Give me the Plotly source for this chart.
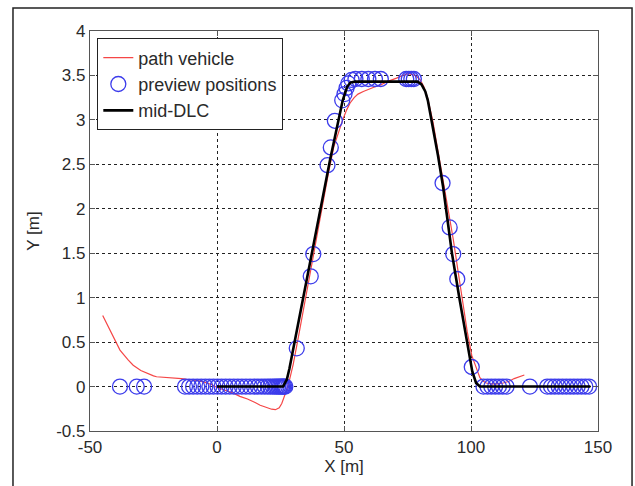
import plotly.graph_objects as go

# Vehicle path (red)
path_x = [-45, -42, -38.2, -35, -33, -30, -27.8, -25, -23.8, -20, -17.2, -14, -11.9, -8, -5, -2,
          0, 3, 6, 9, 12, 15, 17, 19, 21.5, 23, 24.5, 25.5, 26.5, 27.4, 28.5, 30, 32, 34, 36, 38,
          40, 42, 44, 46, 48, 49.5, 51, 52.4, 54, 55.5, 57.6, 60, 62, 64.2, 67, 70.7, 73, 75.3,
          77, 78.5, 80, 81.5, 83, 85, 87, 89, 91, 93, 95, 97, 98.5, 100.3, 102.2, 103.5, 104.9,
          106, 108, 110, 112.7, 115, 117, 119, 121]
path_y = [0.80, 0.62, 0.41, 0.30, 0.24, 0.18, 0.15, 0.12, 0.11, 0.105, 0.10, 0.09, 0.08, 0.07,
          0.05, 0.02, -0.01, -0.04, -0.07, -0.11, -0.14, -0.18, -0.21, -0.23, -0.255, -0.26,
          -0.24, -0.19, -0.12, -0.04, 0.07, 0.25, 0.55, 0.85, 1.17, 1.48, 1.80, 2.12, 2.42, 2.70,
          2.88, 3.00, 3.11, 3.19, 3.25, 3.29, 3.32, 3.35, 3.37, 3.39, 3.43, 3.47, 3.50, 3.52,
          3.51, 3.49, 3.45, 3.37, 3.24, 2.98, 2.66, 2.34, 2.02, 1.66, 1.28, 0.90, 0.62, 0.35,
          0.20, 0.10, 0.06, 0.04, 0.03, 0.03, 0.04, 0.06, 0.09, 0.11, 0.13]

# Preview positions (blue circles)
preview_x = [-38.2, -31.6, -28.7, -12.6, -11, -9.4, -7.8, -6.2, -4.6, -3, -1.4, 0.2, 1.8, 3.4,
             5, 6.6, 8.2, 9.8, 11.4, 13, 14.6, 16.1, 17.5, 18.8, 20, 21, 22, 22.8, 23.5, 24.1,
             24.7, 25.2, 25.7, 26.1, 26.5, 26.9,
             31.4, 36.9, 37.9, 43.5, 44.8, 46.4, 49.3, 50.2, 51, 51.7, 53, 54.5, 57, 59.6, 62.2,
             64.5, 74.5, 75.5, 76.5, 77.5,
             88.8, 91.6, 93, 94.6, 100.3,
             104.9, 106.5, 108, 109.5, 111, 112.5, 114, 123.2, 130, 131.5, 133, 134.5, 136,
             137.5, 139, 140.5, 142, 143.5, 145, 146.5]
preview_y = [0] * 36 + \
            [0.43, 1.24, 1.49, 2.49, 2.69, 2.99, 3.22, 3.29, 3.36, 3.41, 3.45, 3.46, 3.46, 3.46,
             3.46, 3.46, 3.46, 3.46, 3.46, 3.46,
             2.29, 1.79, 1.49, 1.21, 0.22] + \
            [0] * 20

# Double lane change centre line (black)
dlc_x = [0, 26, 27.5, 28.5, 44.5, 47.8, 49.5, 51.2, 52.5, 54.3, 79, 80.5, 82, 83, 85, 87, 89,
         91, 92.5, 95.4, 98.3, 100.5, 102, 103.5, 147]
dlc_y = [0, 0, 0.08, 0.2, 2.55, 3.0, 3.22, 3.37, 3.42, 3.43, 3.43, 3.40, 3.32, 3.22, 2.93, 2.6,
         2.25, 1.85, 1.5, 1.0, 0.5, 0.17, 0.04, 0, 0]

x_ticks = [-50, 0, 50, 100, 150]
y_ticks = [-0.5, 0, 0.5, 1, 1.5, 2, 2.5, 3, 3.5, 4]

font_family = "Liberation Sans, Arial, sans-serif"
text_color = "#2a2a2a"

fig = go.Figure()
fig.add_trace(go.Scatter(x=path_x, y=path_y, mode="lines", name="path vehicle",
                         line=dict(color="rgb(245,70,70)", width=1.2)))
fig.add_trace(go.Scatter(x=preview_x, y=preview_y, mode="markers", name="preview positions",
                         marker=dict(symbol="circle-open", size=15,
                                     color="rgb(60,60,235)", line=dict(width=1.3))))
fig.add_trace(go.Scatter(x=dlc_x, y=dlc_y, mode="lines", name="mid-DLC",
                         line=dict(color="black", width=2.6)))

axis_common = dict(
    showline=True, linecolor="#555", linewidth=1.2, mirror="ticks",
    ticks="inside", ticklen=5, tickcolor="#555",
    showgrid=True, gridcolor="#222", gridwidth=1, griddash="3px,3px",
    zeroline=False,
    tickfont=dict(family=font_family, size=17, color=text_color),
)

fig.update_xaxes(range=[-50, 150], tickvals=x_ticks, ticktext=[str(v) for v in x_ticks],
                 title=dict(text="X [m]", font=dict(family=font_family, size=17, color=text_color),
                            standoff=4),
                 **axis_common)
fig.update_yaxes(range=[-0.5, 4], tickvals=y_ticks, ticktext=[f"{v:g}" for v in y_ticks],
                 title=dict(text="Y [m]", font=dict(family=font_family, size=17, color=text_color),
                            standoff=12),
                 **axis_common)

fig.update_layout(
    width=635, height=486,
    margin=dict(l=90, r=37, t=31, b=55),
    paper_bgcolor="white", plot_bgcolor="white",
    showlegend=True,
    legend=dict(x=0.014, y=0.982, xanchor="left", yanchor="top",
                bgcolor="white", bordercolor="#222", borderwidth=1.2,
                font=dict(family=font_family, size=18, color=text_color),
                tracegroupgap=0, itemsizing="trace"),
    shapes=[dict(type="rect", xref="paper", yref="paper",
                 x0=-0.1516, x1=1.067, y0=-0.2, y1=1.0575,
                 line=dict(color="#222", width=1.5), layer="below")],
)

fig.write_html("out.html")
